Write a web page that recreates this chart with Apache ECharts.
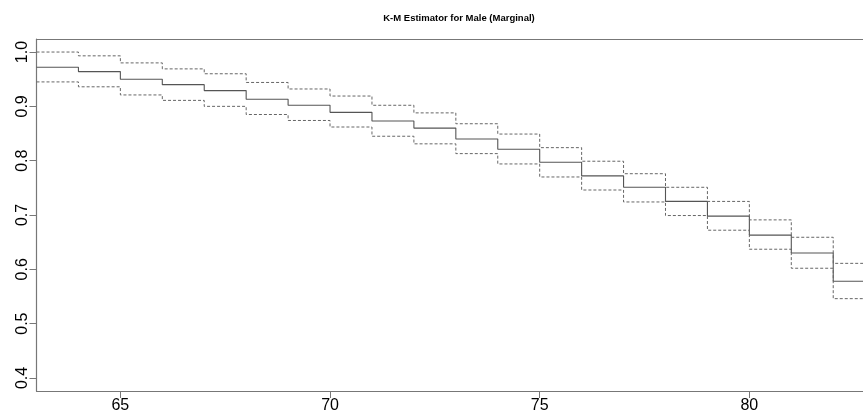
<!DOCTYPE html>
<html>
<head>
<meta charset="utf-8">
<script src="https://cdn.jsdelivr.net/npm/echarts@6/dist/echarts.min.js"></script>
<style>html,body{margin:0;padding:0;background:#fff}#c{width:863px;height:410px}</style>
</head>
<body>
<div id="c"></div>
<script>
const times = [63,64,65,66,67,68,69,70,71,72,73,74,75,76,77,78,79,80,81,82];
const estimate = [0.972,0.964,0.950,0.940,0.929,0.913,0.902,0.889,0.873,0.860,0.840,0.821,0.797,0.772,0.751,0.725,0.698,0.663,0.630,0.578];
const upper = [1.000,0.993,0.980,0.969,0.960,0.944,0.932,0.919,0.902,0.888,0.868,0.849,0.824,0.799,0.776,0.751,0.725,0.691,0.659,0.611];
const lower = [0.945,0.936,0.921,0.911,0.900,0.885,0.874,0.862,0.845,0.831,0.813,0.794,0.770,0.746,0.724,0.699,0.672,0.637,0.602,0.546];
const xTicks = [65,70,75,80];
const yTicks = [0.4,0.5,0.6,0.7,0.8,0.9,1.0];
const xEnd = 83.5;

function pts(vals){
  const d = times.map((t,i)=>[t, vals[i]]);
  d.push([xEnd, vals[vals.length-1]]);
  return d;
}

const chart = echarts.init(document.getElementById('c'), null, {renderer:'canvas'});
const font = '"Liberation Sans", Arial, sans-serif';
const axisCol = '#777';
chart.setOption({
  animation:false,
  title:{
    text:'K-M Estimator for Male (Marginal)',
    left:454, top:8, textAlign:'center',
    textStyle:{fontFamily:font, fontSize:9.5, fontWeight:'bold', color:'#000'}
  },
  grid:{left:36.5, right:0, top:39, bottom:19, show:false, containLabel:false, outerBoundsMode:'none'},
  xAxis:[{
    type:'value', min:63, max:82.71, position:'bottom',
    splitLine:{show:false},
    axisLine:{show:true, onZero:false, lineStyle:{color:axisCol, width:1.2}},
    axisTick:{show:true, length:7, lineStyle:{color:axisCol, width:1}, customValues:xTicks},
    axisLabel:{show:true, margin:6.5, fontFamily:font, fontSize:16, color:'#000', customValues:xTicks}
  },{
    type:'value', min:63, max:82.71, position:'top',
    splitLine:{show:false},
    axisLine:{show:true, onZero:false, lineStyle:{color:axisCol, width:1.2}},
    axisTick:{show:false}, axisLabel:{show:false}
  }],
  yAxis:{
    type:'value', min:0.376, max:1.024,
    splitLine:{show:false},
    axisLine:{show:true, onZero:false, lineStyle:{color:axisCol, width:1.2}},
    axisTick:{show:true, length:7, lineStyle:{color:axisCol, width:1}, customValues:yTicks},
    axisLabel:{show:true, rotate:90, margin:6, fontFamily:font, fontSize:16, color:'#000', customValues:yTicks,
      formatter:v=>Number(v).toFixed(1)}
  },
  series:[
    {type:'line', step:'end', data:pts(estimate), symbol:'none', lineStyle:{color:'#555', width:1.1}},
    {type:'line', step:'end', data:pts(upper), symbol:'none', lineStyle:{color:'#666', width:1, type:[3,2]}},
    {type:'line', step:'end', data:pts(lower), symbol:'none', lineStyle:{color:'#666', width:1, type:[3,2]}}
  ]
});
</script>
</body>
</html>
